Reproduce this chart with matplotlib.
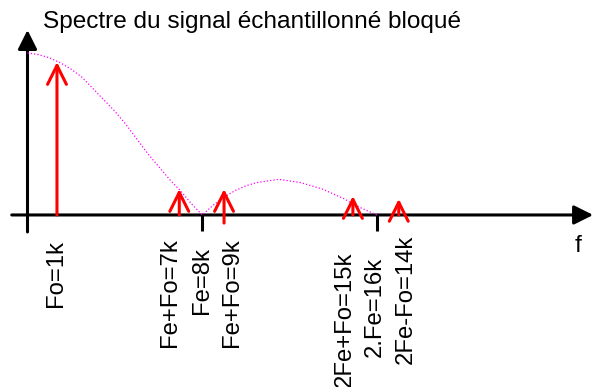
import numpy as np
from matplotlib import pyplot as plt

plt.rcParams['font.family'] = ['Liberation Sans', 'DejaVu Sans']

# envelope of the held spectrum, read every 0.5k
env_f = np.arange(0, 16.5, 0.5)
env_amp = [1.00, 0.99, 0.97, 0.94, 0.90, 0.85, 0.78, 0.71, 0.64, 0.56, 0.47,
           0.38, 0.30, 0.22, 0.15, 0.07, 0.00, 0.06, 0.11, 0.15, 0.18, 0.20,
           0.21, 0.22, 0.21, 0.20, 0.18, 0.16, 0.13, 0.10, 0.06, 0.03, 0.00]

# spectral lines
line_f = [1.35, 6.95, 9.0, 14.9, 17.0]
line_amp = [0.944, 0.16, 0.16, 0.117, 0.099]
line_base = [0, 0, -0.05, 0, 0]

tick_f = [8.0, 16.0]

labels = ['Fo=1k', 'Fe+Fo=7k', 'Fe=8k', 'Fe+Fo=9k', '2Fe+Fo=15k', '2.Fe=16k', '2Fe-Fo=14k']
label_x = [1.30, 6.52, 7.99, 9.36, 14.54, 15.91, 17.33]
label_top = [-0.154, -0.142, -0.198, -0.142, -0.228, -0.259, -0.123]

title = 'Spectre du signal échantillonné bloqué'

fig = plt.figure(figsize=(5.94, 3.87), dpi=100)
ax = fig.add_axes([0, 0, 1, 1])
ax.set_xlim(-1.259, 25.94)
ax.set_ylim(-1.062, 1.327)
ax.axis('off')

# axes with arrows
ax.annotate('', xy=(25.9, 0), xytext=(-0.72, 0),
            arrowprops=dict(arrowstyle='-|>', lw=2.2, color='black',
                            mutation_scale=29, shrinkA=0, shrinkB=0))
ax.annotate('', xy=(0, 1.142), xytext=(0, -0.105),
            arrowprops=dict(arrowstyle='-|>', lw=2.2, color='black',
                            mutation_scale=29, shrinkA=0, shrinkB=0))
for t in tick_f:
    ax.plot([t, t], [0, -0.1], color='black', lw=2.2, solid_capstyle='butt')

ax.plot(env_f, env_amp, color='#ff00ff', lw=0.9, ls=':', zorder=3)

for f, a, b in zip(line_f, line_amp, line_base):
    ax.annotate('', xy=(f, a), xytext=(f, b),
                arrowprops=dict(arrowstyle='->', lw=2.2, color='red',
                                mutation_scale=34, shrinkA=0, shrinkB=0))

for s, x, y in zip(labels, label_x, label_top):
    ax.text(x, y, s, rotation=90, ha='center', va='top', fontsize=17.2)

ax.text(0.7, 1.154, title, ha='left', va='baseline', fontsize=17.6)
ax.text(25.2, -0.23, 'f', ha='center', va='baseline', fontsize=17.6)

fig.savefig('out.png', dpi=100)
